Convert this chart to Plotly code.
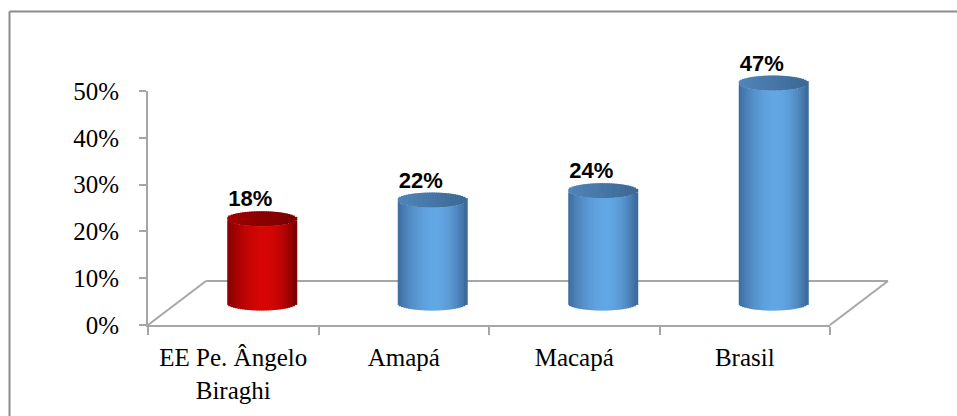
import math
import plotly.graph_objects as go

# ---- data ----
categories = ["EE Pe. Ângelo<br>Biraghi", "Amapá", "Macapá", "Brasil"]
values = [0.18, 0.22, 0.24, 0.47]
label_texts = ["18%", "22%", "24%", "47%"]
y_tick_vals = [0, 0.1, 0.2, 0.3, 0.4, 0.5]
y_tick_text = ["0%", "10%", "20%", "30%", "40%", "50%"]
highlight = [True, False, False, False]

# ---- geometry (pixels) ----
W, H = 957, 416
AX_L, AX_R = 148, 830          # front x-axis span
AX_B, AX_T = 325, 91           # 0% and 50% pixel rows
PX_CAT = (AX_R - AX_L) / len(categories)
PX_Y = (AX_B - AX_T) / 0.5     # pixels per 1.0 (100%)
DX, DY = 29, 22                # 3-D depth offset (px)
BAR_PX = 70
RY_PX = 7.5

x0_px = AX_L + 0.5 * PX_CAT + DX
xr = [-x0_px / PX_CAT, (W - x0_px) / PX_CAT]
y0_px_from_bottom = H - (AX_B - DY)
yr = [-y0_px_from_bottom / PX_Y, (H - y0_px_from_bottom) / PX_Y]
bw = BAR_PX / PX_CAT
ry = RY_PX / PX_Y
dxu = DX / PX_CAT
dyu = DY / PX_Y

SERIF = "Liberation Serif, Times New Roman, serif"
SANS = "Liberation Sans, Arial, sans-serif"

def mix(a, b, t):
    return "rgb(%d,%d,%d)" % tuple(round(a[i] + (b[i] - a[i]) * t) for i in range(3))

RED_EDGE, RED_CENTER = (118, 0, 0), (214, 6, 6)
BLUE_EDGE, BLUE_CENTER = (56, 100, 148), (98, 166, 228)
RED_TOP_L, RED_TOP_R = (160, 0, 0), (120, 0, 0)
BLUE_TOP_L, BLUE_TOP_R = (80, 134, 186), (60, 104, 148)

fig = go.Figure()

fig.add_trace(go.Scatter(x=categories, y=[0] * len(categories), xaxis="x", yaxis="y",
                         mode="markers", marker=dict(opacity=0), hoverinfo="skip",
                         showlegend=False))

N = 30
step = bw / N
c = 0.56
xs = list(range(len(categories)))
for k in range(N):
    u = (k + 0.5) / N
    s = math.sqrt(max(0.0, 1 - (2 * u - 1) ** 2))
    d = (u - c) / c if u < c else (u - c) / (1 - c)
    wgt = math.cos(math.pi / 2 * min(1, abs(d))) ** 0.8
    ov = 0 if k == 0 else step * 0.6
    off = -bw / 2 + k * step - ov
    wid = step + ov
    body_cols = [mix(RED_EDGE, RED_CENTER, wgt) if h else mix(BLUE_EDGE, BLUE_CENTER, wgt)
                 for h in highlight]
    top_cols = [mix(RED_TOP_L, RED_TOP_R, u) if h else mix(BLUE_TOP_L, BLUE_TOP_R, u)
                for h in highlight]
    fig.add_trace(go.Bar(x=xs, y=values, base=[-ry * s] * len(values),
                         offset=off, width=wid, xaxis="x2", yaxis="y2",
                         marker=dict(color=body_cols, line=dict(width=0)),
                         hoverinfo="skip", showlegend=False))
    fig.add_trace(go.Bar(x=xs, y=[2 * ry * s] * len(values),
                         base=[v - ry * s for v in values],
                         offset=off, width=wid, xaxis="x2", yaxis="y2",
                         marker=dict(color=top_cols, line=dict(width=0)),
                         hoverinfo="skip", showlegend=False))

fig.add_trace(go.Scatter(x=[i - 12 / PX_CAT for i in xs],
                         y=[v + 18 / PX_Y for v in values],
                         xaxis="x2", yaxis="y2", mode="text", text=label_texts,
                         textposition="middle center",
                         textfont=dict(family=SANS, size=22, color="black", weight="bold"),
                         cliponaxis=False, hoverinfo="skip", showlegend=False))

axis_col = "#A6A6A6"
fig.update_layout(
    template="none",
    width=W, height=H, autosize=False, margin=dict(l=0, r=0, t=0, b=0, pad=0),
    paper_bgcolor="white", plot_bgcolor="rgba(0,0,0,0)",
    font=dict(family=SERIF, size=25, color="black"),
    barmode="overlay", showlegend=False,
    xaxis=dict(domain=[AX_L / W, AX_R / W], anchor="y", type="category",
               tickson="boundaries", ticks="outside", ticklen=8, tickwidth=1.5,
               tickcolor=axis_col, showline=True, linecolor=axis_col, linewidth=2,
               showgrid=False, zeroline=False, range=[-0.5, 3.5], automargin=False,
               tickfont=dict(family=SERIF, size=25, color="black"),
               ticklabelstandoff=9, fixedrange=True),
    yaxis=dict(domain=[(H - AX_B) / H, (H - AX_T) / H], anchor="x", range=[0, 0.5],
               tickvals=y_tick_vals, ticktext=y_tick_text, ticks="outside", ticklen=7,
               tickwidth=1.5, tickcolor=axis_col, showline=True, linecolor=axis_col,
               linewidth=2, showgrid=False, zeroline=False, automargin=False,
               tickfont=dict(family=SERIF, size=25, color="black"),
               ticklabelstandoff=15, fixedrange=True),
    xaxis2=dict(domain=[0, 1], anchor="y2", range=xr, visible=False, fixedrange=True,
                automargin=False),
    yaxis2=dict(domain=[0, 1], anchor="x2", range=yr, visible=False, fixedrange=True,
                automargin=False),
)

floor = [
    ((-0.5 - dxu, -dyu), (-0.5 + dxu, dyu)),
    ((-0.5 + dxu, dyu), (len(categories) - 0.5 + dxu, dyu)),
    ((len(categories) - 0.5 - dxu, -dyu), (len(categories) - 0.5 + dxu, dyu)),
]
for (a, b) in floor:
    fig.add_shape(type="line", xref="x2", yref="y2", x0=a[0], y0=a[1], x1=b[0], y1=b[1],
                  line=dict(color=axis_col, width=2), layer="below")

fig.add_shape(type="line", xref="paper", yref="paper", x0=9.5 / W, x1=1, y0=1 - 11.5 / H,
              y1=1 - 11.5 / H, line=dict(color="#8C8C8C", width=2))
fig.add_shape(type="line", xref="paper", yref="paper", x0=9.5 / W, x1=9.5 / W, y0=0,
              y1=1 - 11.5 / H, line=dict(color="#8C8C8C", width=2))

fig.write_html("out.html")
